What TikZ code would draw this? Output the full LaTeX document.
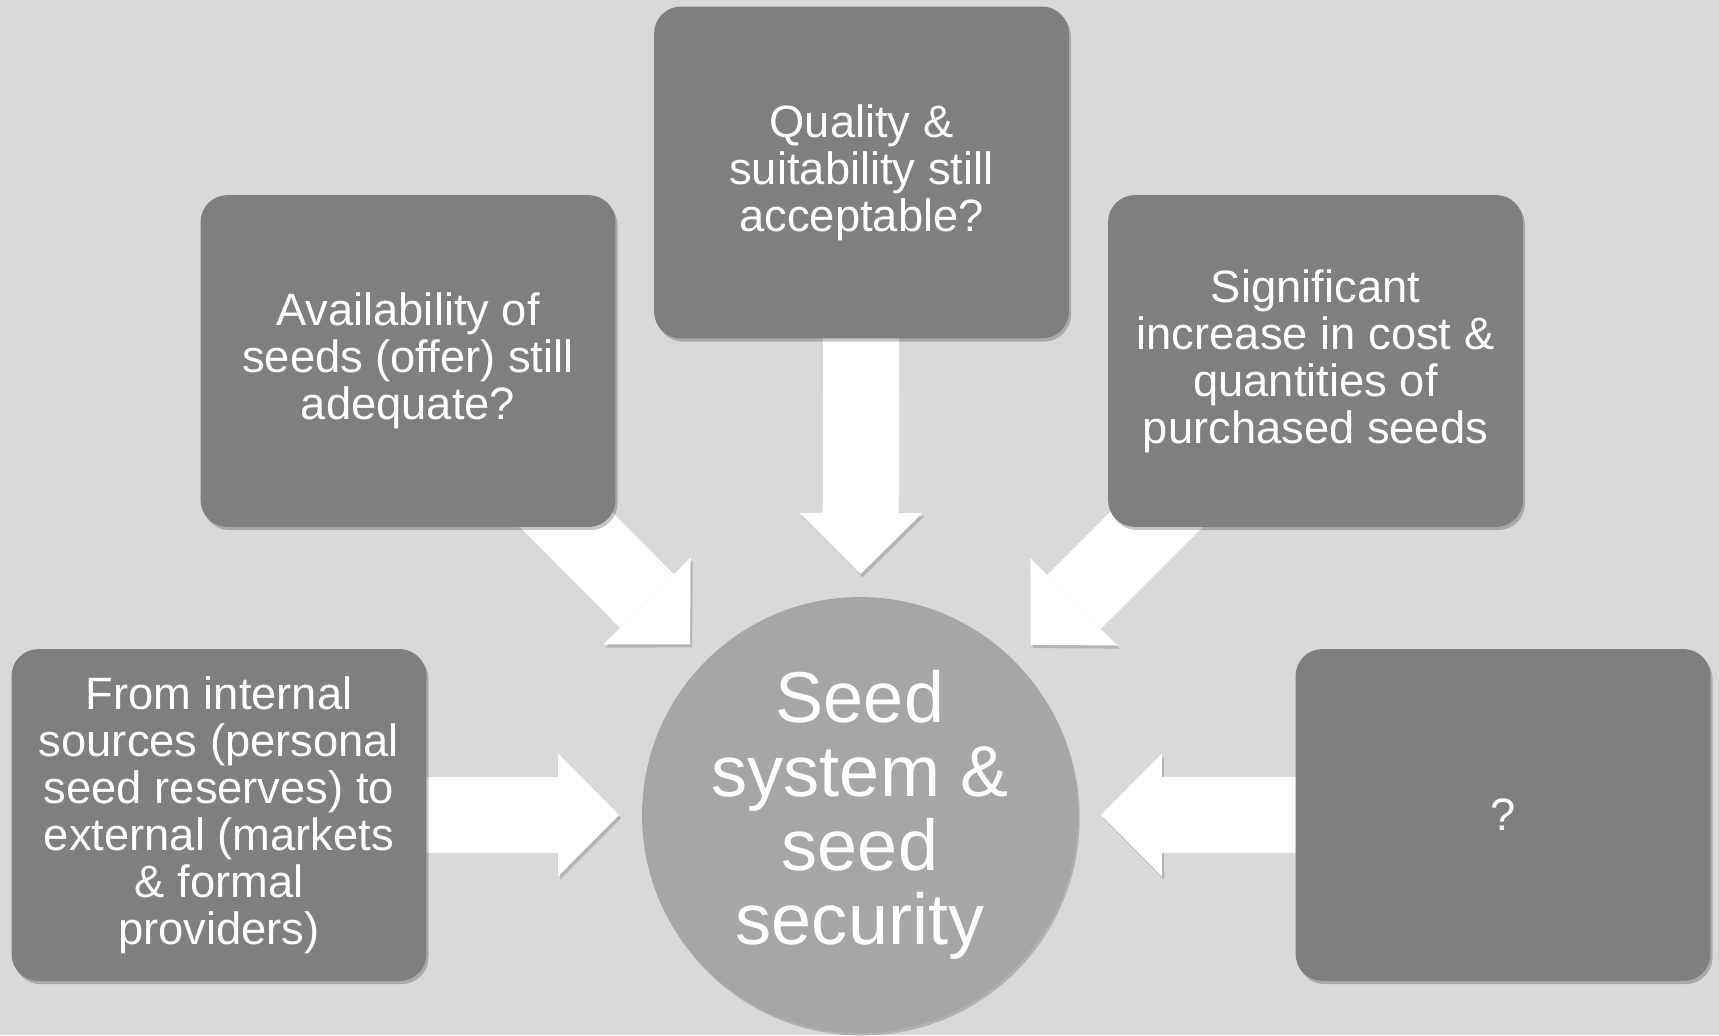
\documentclass[tikz,border=0pt]{standalone}
\usepackage{fontspec}
\setmainfont{Liberation Sans}
\usepackage{tikz}
\usetikzlibrary{arrows.meta,shadows}
\definecolor{bgColor}{HTML}{D9D9D9}
\definecolor{boxColor}{HTML}{7F7F7F}
\definecolor{hubColor}{HTML}{A6A6A6}
\definecolor{shadeColor}{HTML}{B4B4B4}
\pgfdeclarelayer{back}
\pgfsetlayers{back,main}
\tikzset{
	box/.style={fill=boxColor, text=white, rounded corners=0.54cm,
		minimum width=8.3cm, minimum height=6.64cm, align=center,
		inner sep=0, outer sep=0, font=\fontsize{25.8}{26.8}\selectfont,
		drop shadow={shadow xshift=1.2pt, shadow yshift=-1.8pt, opacity=.22, fill=black}},
	hub/.style={circle, fill=hubColor, text=white, minimum size=8.72cm,
		align=center, inner sep=0, outer sep=0, font=\fontsize{41}{42.1}\selectfont,
		drop shadow={shadow xshift=1pt, shadow yshift=-1.5pt, opacity=.18, fill=black}},
	fat/.style={draw=white, line width=1.52cm,
		-{Triangle[length=1.22cm, width=2.46cm, line width=0pt]}, shorten >=0.46cm,
		preaction={draw=shadeColor, transform canvas={xshift=1.2pt, yshift=-1.8pt}}}
}

\begin{document}
\begin{tikzpicture}[x=0.02cm, y=-0.02cm]
	\useasboundingbox (0,0) rectangle (1719,1035);
	\node[hub] (ss) at (860, 815) {Seed\\system \&\\seed\\security};
	\node[box] (t0) at (861.5, 172.5) {Quality \&\\suitability still\\acceptable?};
	\node[box] (l1) at (408, 361) {Availability of\\seeds (offer) still\\adequate?};
	\node[box] (r1) at (1315.5, 361) {Significant\\increase in cost \&\\quantities of\\purchased seeds};
	\node[box] (l2) at (219, 815) {From internal\\sources (personal\\seed reserves) to\\external (markets\\\& formal\\providers)};
	\node[box] (r2) at (1503, 815) {?};
	\begin{pgfonlayer}{back}
		\fill[bgColor] (0,0) rectangle (1719,1035);
		\draw[fat] (t0.center) -- (ss);
		\draw[fat] (l1.center) -- (ss);
		\draw[fat] (r1.center) -- (ss);
		\draw[fat] (l2.center) -- (ss);
		\draw[fat] (r2.center) -- (ss);
	\end{pgfonlayer}
\end{tikzpicture}
\end{document}
